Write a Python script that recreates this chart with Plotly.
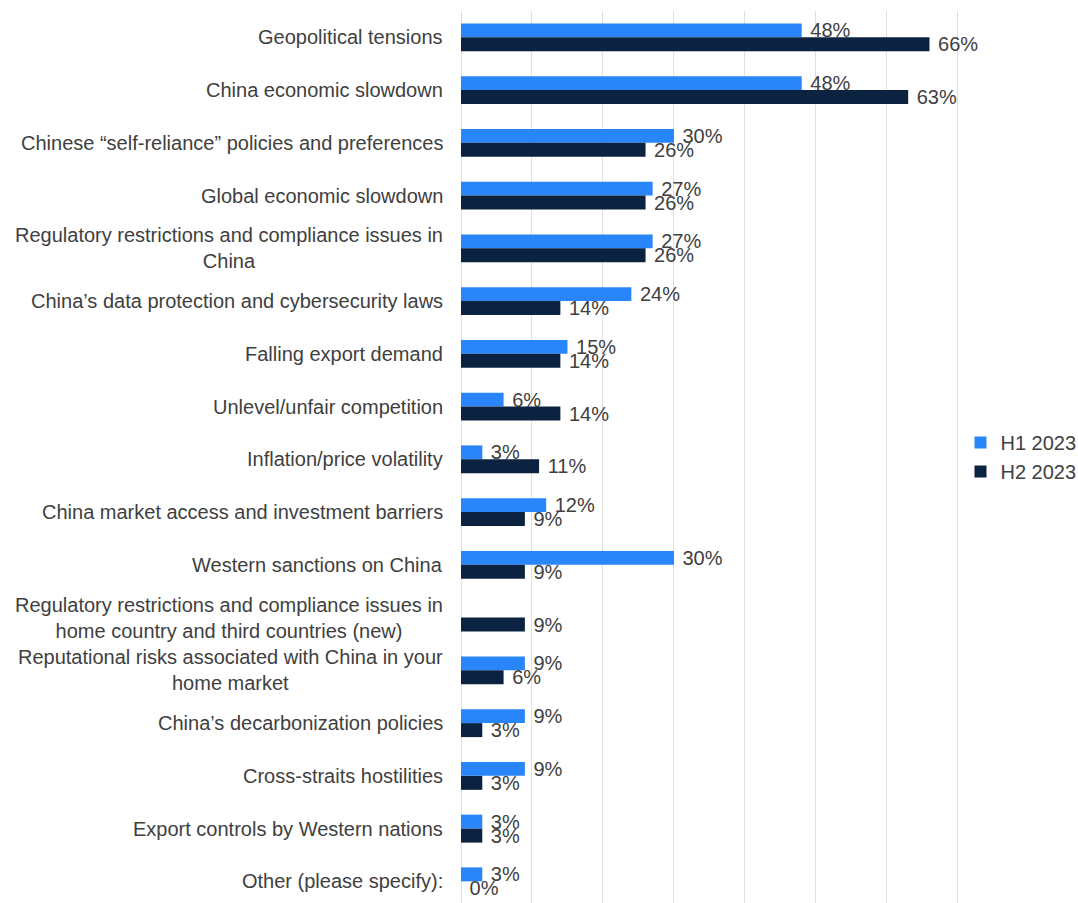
import plotly.graph_objects as go

categories = [
    "Geopolitical tensions",
    "China economic slowdown",
    "Chinese “self-reliance” policies and preferences",
    "Global economic slowdown",
    "Regulatory restrictions and compliance issues in<br>China",
    "China’s data protection and cybersecurity laws",
    "Falling export demand",
    "Unlevel/unfair competition",
    "Inflation/price volatility",
    "China market access and investment barriers",
    "Western sanctions on China",
    "Regulatory restrictions and compliance issues in<br>home country and third countries (new)",
    "Reputational risks associated with China in your<br>home market",
    "China’s decarbonization policies",
    "Cross-straits hostilities",
    "Export controls by Western nations",
    "Other (please specify):",
]
h1_2023 = [48, 48, 30, 27, 27, 24, 15, 6, 3, 12, 30, None, 9, 9, 9, 3, 3]
h2_2023 = [66, 63, 26, 26, 26, 14, 14, 14, 11, 9, 9, 9, 6, 3, 3, 3, 0]

FONT = "Liberation Sans, Arial, sans-serif"
TEXT_COLOR = "#404040"
BLUE = "#2986FA"
NAVY = "#0B2341"
FONT_SIZE = 20


def pct_labels(values):
    # non-breaking space keeps a little gap between bar end and label
    return ["" if v is None else f"\u00a0{v}%" for v in values]


fig = go.Figure()
for name, vals, color in [("H1 2023", h1_2023, BLUE), ("H2 2023", h2_2023, NAVY)]:
    fig.add_trace(go.Bar(
        name=name,
        y=categories,
        x=vals,
        orientation="h",
        marker=dict(color=color, line=dict(width=0)),
        text=pct_labels(vals),
        textposition="outside",
        textfont=dict(family=FONT, size=FONT_SIZE, color=TEXT_COLOR),
        constraintext="none",
        cliponaxis=False,
    ))

# Category labels as annotations so wrapped labels are centred line by line
for cat in categories:
    fig.add_annotation(
        x=0, xref="paper", y=cat, yref="y",
        text=cat, showarrow=False,
        xanchor="right", yanchor="middle", xshift=-16,
        align="center",
        font=dict(family=FONT, size=FONT_SIZE, color=TEXT_COLOR),
    )

fig.update_layout(
    width=1078, height=903,
    margin=dict(l=461, r=118, t=11, b=0, autoexpand=False),
    paper_bgcolor="white",
    plot_bgcolor="white",
    barmode="group",
    bargap=0.47,
    bargroupgap=0,
    font=dict(family=FONT, size=FONT_SIZE, color=TEXT_COLOR),
    showlegend=True,
    legend=dict(
        xref="container", x=0.891, xanchor="left",
        y=0.5, yanchor="middle",
        font=dict(family=FONT, size=FONT_SIZE, color=TEXT_COLOR),
        traceorder="normal",
        itemwidth=30,
        bgcolor="rgba(0,0,0,0)",
    ),
    xaxis=dict(
        range=[0, 70.3], dtick=10,
        showgrid=True, gridcolor="#e0e0e0", gridwidth=1,
        zeroline=True, zerolinecolor="#e0e0e0", zerolinewidth=1,
        showticklabels=False, ticks="",
        showline=False,
    ),
    yaxis=dict(
        range=[16.41, -0.5],
        showticklabels=False, ticks="",
        showgrid=False, showline=False,
    ),
)

fig.write_html("out.html")
